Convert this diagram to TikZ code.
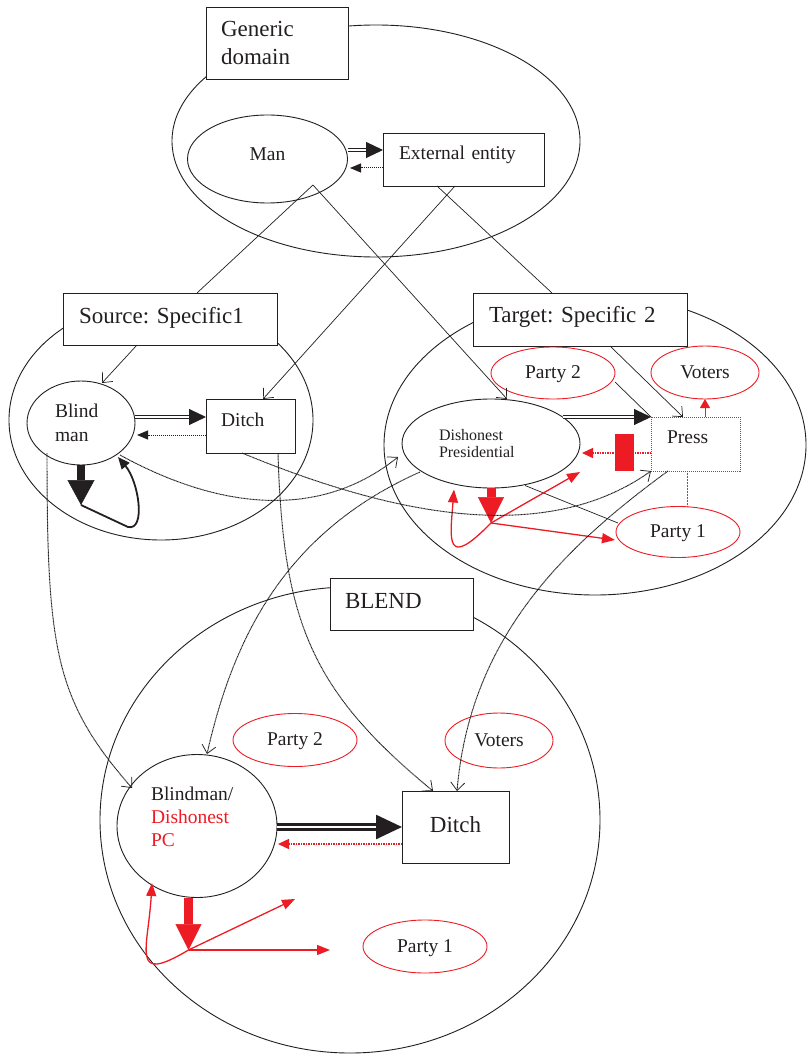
\documentclass[tikz,border=0pt]{standalone}
\usepackage{fontspec}
\setmainfont{Liberation Serif}
\usetikzlibrary{arrows.meta,shapes.geometric}
\definecolor{ink}{HTML}{231F20}
\definecolor{rd}{HTML}{ED1C24}
\frenchspacing
\newcommand{\fbig}{\fontsize{23}{28}\selectfont}
\newcommand{\fsm}{\fontsize{19.5}{24}\selectfont}
\newcommand{\fbl}{\fontsize{19.5}{23}\selectfont}
\newcommand{\fxs}{\fontsize{16}{17.6}\selectfont}
\tikzset{
 dom/.style={draw=ink,ellipse,line width=0.9pt},
 box/.style={draw=ink,fill=white,rectangle,line width=0.9pt},
 shp/.style={draw=ink,ellipse,line width=0.9pt},
 party/.style={draw=rd,ellipse,line width=0.9pt,font=\fsm,text height=13pt,text depth=1.5pt},
 lift/.style={text height=13pt,text depth=#1},
 liftb/.style={text height=15.2pt,text depth=#1},
 thin/.style={draw=ink,line width=0.7pt},
 oarr/.style={thin,-{Straight Barb[length=8pt,width=14pt]}},
 dots/.style={draw=ink,line width=0.95pt,dash pattern=on 1pt off 0.5pt},
 doarr/.style={dots,-{Straight Barb[length=8pt,width=14pt,line width=0.75pt]}},
 gdot/.style={draw=ink!70,line width=0.8pt,dash pattern=on 1pt off 0.5pt},
 dbl/.style={draw=ink,line width=1pt,double=white,double distance=2.5pt,-{Triangle[length=17pt,width=16pt]}},
 dblbig/.style={draw=ink,line width=2.5pt,double=white,double distance=2.5pt,-{Triangle[length=26pt,width=24pt]}},
 kdot/.style={draw=ink,line width=1pt,densely dotted,-{Triangle[length=11pt,width=9pt]}},
 rdot/.style={draw=rd,line width=1.5pt,densely dotted,-{Triangle[length=11pt,width=10pt]}},
 kfat/.style={draw=ink,line width=8pt,-{Triangle[length=25pt,width=27pt,line width=0.5pt]}},
 rfat/.style={draw=rd,line width=9pt,-{Triangle[length=26pt,width=26pt,line width=0.5pt]}},
 selfarr/.style={draw=ink,line width=1.8pt,-{Triangle[length=12pt,width=10pt]}},
 rarr/.style={draw=rd,line width=1.3pt,-{Triangle[length=13pt,width=10pt]}},
 rsmall/.style={draw=rd,line width=1pt,-{Triangle[length=9pt,width=10pt]}},
}
\begin{document}
\begin{tikzpicture}[x=1pt,y=-1pt,every node/.style={inner sep=0pt,outer sep=0pt,text=ink}]
\path[fill=white] (0,0) rectangle (806,1056);
\useasboundingbox (0,0) rectangle (806,1056);

% domains
\node[dom,minimum width=408pt,minimum height=232pt] (gen) at (376,141) {};
\node[dom,minimum width=304pt,minimum height=240pt] (src) at (161,420) {};
\node[dom,minimum width=422pt,minimum height=300pt] (tgt) at (595,445) {};
\node[dom,minimum width=500pt,minimum height=466pt] (bld) at (350,820) {};

% title boxes
\node[box,font=\fbig,minimum width=142pt,minimum height=72pt,text width=112pt,align=left] (genbox) at (277,43) {Generic\\domain};
\node[box,font=\fbig,minimum width=214pt,minimum height=52pt,text width=182pt,align=left,liftb=6pt] (srcbox) at (170,319) {Source: Specific1};
\node[box,font=\fbig,minimum width=214pt,minimum height=53pt,text width=182pt,align=left,liftb=9pt] (tgtbox) at (580,319.5) {Target: Specific 2};
\node[box,font=\fbig,minimum width=143pt,minimum height=52pt,text width=113pt,align=left,liftb=7pt] (bldbox) at (401.5,604) {BLEND};

% generic domain
\node[shp,font=\fsm,minimum width=160pt,minimum height=88pt,lift=10pt] (man) at (267.5,159) {Man};
\node[box,font=\fsm,minimum width=161pt,minimum height=53pt,text width=129pt,align=left,lift=13pt] (ext) at (463.5,159.5) {External entity};

% source
\node[shp,font=\fsm,minimum width=108pt,minimum height=84pt,text width=52pt,align=left] (blind) at (81,423) {Blind\\man};
\node[box,font=\fsm,minimum width=89pt,minimum height=54pt,text width=59pt,align=left,lift=12pt] (ditch1) at (250.5,426) {Ditch};

% target
\node[party,minimum width=124pt,minimum height=52pt] (tp2) at (553,373) {Party 2};
\node[party,minimum width=108pt,minimum height=53pt] (tv) at (705,372.5) {Voters};
\node[party,minimum width=124pt,minimum height=51pt] (tp1) at (678,532) {Party 1};
\node[shp,font=\fxs,minimum width=178pt,minimum height=89pt,text width=104pt,align=left] (dp) at (491,443.5) {Dishonest\\Presidential};
\node[draw=rd,line width=1pt,densely dotted,rectangle,font=\fsm,minimum width=89pt,minimum height=54pt,text width=57pt,align=left,lift=14pt] (press) at (695.5,444) {Press};

% blend
\node[shp,minimum width=160pt,minimum height=143pt] (bdpc) at (197,826) {};
\node[font=\fbl,text width=92pt,align=left] (bdtxt) at (197,816.5) {Blindman/\\\textcolor{rd}{Dishonest}\\\textcolor{rd}{PC}};
\node[box,font=\fbig,minimum width=107pt,minimum height=72pt,liftb=4.6pt] (ditch2) at (455.5,827) {Ditch};
\node[party,minimum width=124pt,minimum height=53pt] (bp2) at (295,740) {Party 2};
\node[party,minimum width=108pt,minimum height=55pt] (bv) at (499,740.5) {Voters};
\node[party,minimum width=124pt,minimum height=53pt] (bp1) at (425,946.5) {Party 1};

% generic relations
\draw[dbl] ([shift={(0.5,-9)}]man.east) -- ([shift={(0,-9.5)}]ext.west);
\draw[kdot] ([shift={(0,8.5)}]ext.west) -- ([shift={(2.5,9)}]man.east);

% projections from generic domain
\draw[thin] ([shift={(45.5,26)}]man.center) -- ([shift={(27,0)}]srcbox.north);
\draw[oarr] ([shift={(45.5,26)}]man.center) -- ([shift={(16,0)}]dp.north);
\draw[thin] ([shift={(-26.5,0)}]ext.south) -- ([shift={(-28,0)}]tgtbox.north);
\draw[oarr] ([shift={(-8.5,0)}]ext.south) -- ([shift={(12.5,0)}]ditch1.north);

% source relations
\draw[oarr] ([shift={(-33,0)}]srcbox.south) -- ([shift={(21,-40)}]blind.center);
\draw[dbl] ([shift={(54,-6)}]blind.center) -- ([shift={(0,-9)}]ditch1.west);
\draw[kdot] ([shift={(0,9)}]ditch1.west) -- ([shift={(56,12)}]blind.center);
\coordinate (btip) at (81,505);
\draw[kfat] (blind.south) -- (btip);
\draw[selfarr] (btip) -- (128,527) .. controls (146,531) and (139,482) .. ([shift={(37,34)}]blind.center);

% target relations
\draw[dbl] ([shift={(71.5,-26.5)}]dp.center) -- (press.north west);
\draw[rdot] ([shift={(0,9)}]press.west) -- ([shift={(91,9.5)}]dp.center);
\draw[rsmall] ([shift={(9.5,0)}]press.north) -- (tv.south);
\draw[oarr] ([shift={(30,0)}]tgtbox.south) -- ([shift={(-12.5,0)}]press.north);
\draw[thin] ([shift={(62,9)}]tp2.center) -- (press.north west);
\draw[thin] ([shift={(34,42)}]dp.center) -- ([shift={(-60,-9)}]tp1.center);
\draw[gdot] ([shift={(-8.5,0)}]press.south) -- ([shift={(9,0)}]tp1.north);
\coordinate (rtip) at (491,523);
\coordinate (rfree) at (580,472);
\draw[rfat] (dp.south) -- (rtip);
\draw[rarr] (rtip) -- ([shift={(-63,8)}]tp1.center);
\draw[rarr] (rtip) -- (rfree);
\draw[rarr] (rtip) .. controls (445,570) and (450,540) .. ([shift={(-37,46)}]dp.center);
\node[fill=rd,minimum width=19pt,minimum height=37pt] (block) at (624.5,452.5) {};

% cross-space mappings
\draw[doarr] ([shift={(39,32)}]blind.center) .. controls (220,510) and (320,520) .. ([shift={(-93,13.5)}]dp.center);
\draw[doarr] ([shift={(-8.5,0)}]ditch1.south) .. controls (380,510) and (540,550) .. (press.south west);
\draw[doarr] ([shift={(27.5,0)}]ditch1.south) .. controls (283,620) and (310,690) .. ([shift={(-22.5,0)}]ditch2.north);
\draw[doarr] ([shift={(-34,30)}]blind.center) .. controls (47,650) and (55,700) .. ([shift={(-65,-38)}]bdpc.center);
\draw[doarr] ([shift={(-71,28.5)}]dp.center) .. controls (290,530) and (235,630) .. ([shift={(10,-72)}]bdpc.center);
\draw[doarr] ([shift={(-27.5,0)}]press.south) .. controls (560,550) and (470,640) .. ([shift={(1.5,0)}]ditch2.north);

% blend relations
\draw[dblbig] ([shift={(0,1)}]bdpc.east) -- (ditch2.west);
\draw[rdot] ([shift={(0,17)}]ditch2.west) -- ([shift={(81,18)}]bdpc.center);
\coordinate (btip2) at (188.5,950);
\coordinate (bfreeA) at (330,950);
\coordinate (bfreeB) at (295,899);
\draw[rfat] ([shift={(-8.5,0)}]bdpc.south) -- (btip2);
\draw[rarr] (btip2) -- (bfreeA);
\draw[rarr] (btip2) -- (bfreeB);
\draw[rarr] (btip2) .. controls (130,985) and (148,950) .. ([shift={(-45,57)}]bdpc.center);
\end{tikzpicture}
\end{document}
